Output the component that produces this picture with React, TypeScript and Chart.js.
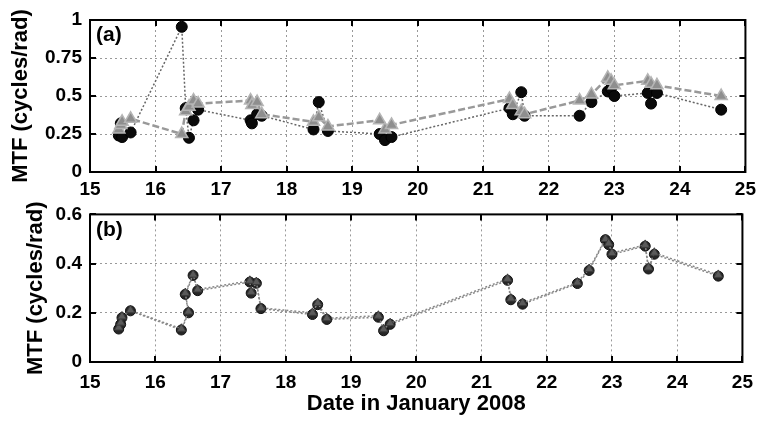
import React, { useEffect, useRef } from "react";
import { Chart, registerables } from "chart.js";

Chart.register(...registerables);

// ---------- data ----------
const timesA = [
  15.44, 15.47, 15.49, 15.62, 16.4, 16.46, 16.51, 16.58, 16.65, 17.45, 17.47, 17.55, 17.62,
  18.41, 18.49, 18.63, 19.42, 19.5, 19.6, 21.4, 21.45, 21.58, 21.63, 22.47, 22.65, 22.9,
  22.95, 23.0, 23.51, 23.56, 23.65, 24.63,
];
const circlesA = [
  0.24, 0.32, 0.23, 0.26, 0.955, 0.42, 0.225, 0.34, 0.41, 0.34, 0.32, 0.38, 0.37,
  0.28, 0.46, 0.27, 0.25, 0.21, 0.23, 0.42, 0.38, 0.525, 0.37, 0.37, 0.46, 0.53,
  0.55, 0.5, 0.52, 0.45, 0.52, 0.41,
];
const trianglesA = [
  0.28, 0.31, 0.33, 0.35, 0.25, 0.4, 0.43, 0.47, 0.45, 0.47, 0.44, 0.46, 0.38,
  0.33, 0.36, 0.3, 0.34, 0.28, 0.31, 0.48, 0.44, 0.4, 0.38, 0.47, 0.51, 0.62,
  0.6, 0.57, 0.6, 0.58, 0.57, 0.5,
];

const timesB = [
  15.44, 15.47, 15.49, 15.62, 16.4, 16.51, 16.46, 16.58, 16.65, 17.45, 17.47, 17.55, 17.62,
  18.41, 18.49, 18.63, 19.42, 19.5, 19.6, 21.4, 21.45, 21.63, 22.47, 22.65, 22.9, 22.95,
  23.0, 23.51, 23.56, 23.65, 24.63,
];
const circlesB = [
  0.134, 0.153, 0.18, 0.208, 0.13, 0.2, 0.275, 0.352, 0.29, 0.325, 0.28, 0.32, 0.217,
  0.193, 0.233, 0.173, 0.182, 0.127, 0.153, 0.332, 0.253, 0.235, 0.319, 0.372, 0.497, 0.477,
  0.438, 0.471, 0.378, 0.438, 0.349,
];
const trianglesB = [
  0.14, 0.16, 0.185, 0.21, 0.135, 0.205, 0.28, 0.355, 0.295, 0.33, 0.285, 0.325, 0.22,
  0.2, 0.24, 0.178, 0.188, 0.133, 0.158, 0.338, 0.258, 0.24, 0.323, 0.378, 0.5, 0.482,
  0.443, 0.476, 0.384, 0.444, 0.354,
];

const xTicks = [15, 16, 17, 18, 19, 20, 21, 22, 23, 24, 25];
const yTicksA = [0, 0.25, 0.5, 0.75, 1];
const yTicksB = [0, 0.2, 0.4, 0.6];

const FONT = "'Liberation Sans', Arial, Helvetica, sans-serif";

const pts = (xs: number[], ys: number[]) => xs.map((x, i) => ({ x, y: ys[i] }));

const boxPlugin = (label: string, labelDy: number) => ({
  id: "boxPlugin",
  afterDraw(chart: any) {
    const { ctx, chartArea, scales } = chart;
    const { left, right, top, bottom } = chartArea;
    ctx.save();
    ctx.strokeStyle = "#000";
    ctx.lineWidth = 2;
    ctx.setLineDash([]);
    ctx.strokeRect(left, top, right - left, bottom - top);
    const L = 6;
    ctx.beginPath();
    scales.x.ticks.forEach((t: any) => {
      const p = Math.round(scales.x.getPixelForValue(t.value));
      ctx.moveTo(p, bottom);
      ctx.lineTo(p, bottom - L);
      ctx.moveTo(p, top);
      ctx.lineTo(p, top + L);
    });
    scales.y.ticks.forEach((t: any) => {
      const p = Math.round(scales.y.getPixelForValue(t.value));
      ctx.moveTo(left, p);
      ctx.lineTo(left + L, p);
      ctx.moveTo(right, p);
      ctx.lineTo(right - L, p);
    });
    ctx.stroke();
    ctx.font = `bold 21px ${FONT}`;
    ctx.fillStyle = "#000";
    ctx.textBaseline = "middle";
    ctx.textAlign = "left";
    ctx.fillText(label, left + 6, top + labelDy);
    ctx.restore();
  },
});

function makeOptions(opts: {
  yTicks: number[];
  yMax: number;
  padTop: number;
  xHeight: number;
  xPad: number;
  yTitlePad: number;
  showXTitle: boolean;
}) {
  return {
    responsive: false,
    animation: false as const,
    layout: { padding: { top: opts.padTop, right: 15, left: 0, bottom: 0 } },
    plugins: { legend: { display: false }, tooltip: { enabled: false } },
    scales: {
      x: {
        type: "linear" as const,
        min: 15,
        max: 25,
        afterBuildTicks: (s: any) => {
          s.ticks = xTicks.map((v) => ({ value: v }));
        },
        afterFit: (s: any) => {
          s.height = opts.xHeight;
        },
        grid: { color: "rgba(0,0,0,0.4)", lineWidth: 1, drawTicks: false },
        border: { display: false, dash: [2, 3] },
        ticks: {
          padding: opts.xPad,
          color: "#000",
          font: { family: FONT, size: 19, weight: "bold" as const },
          callback: (v: any) => String(v),
          maxRotation: 0,
        },
        title: {
          display: opts.showXTitle,
          text: "Date in January 2008",
          color: "#000",
          font: { family: FONT, size: 22, weight: "bold" as const },
          padding: { top: 0, bottom: 4 },
        },
      },
      y: {
        type: "linear" as const,
        min: 0,
        max: opts.yMax,
        afterBuildTicks: (s: any) => {
          s.ticks = opts.yTicks.map((v) => ({ value: v }));
        },
        afterFit: (s: any) => {
          s.width = 90;
        },
        grid: { color: "rgba(0,0,0,0.4)", lineWidth: 1, drawTicks: false },
        border: { display: false, dash: [2, 3] },
        ticks: {
          padding: 8,
          color: "#000",
          font: { family: FONT, size: 19, weight: "bold" as const },
          callback: (v: any) => String(+v),
        },
        title: {
          display: true,
          text: "MTF (cycles/rad)",
          color: "#000",
          font: { family: FONT, size: 22, weight: "bold" as const },
          padding: { top: opts.yTitlePad, bottom: 0 },
        },
      },
    },
  };
}

export default function App() {
  const refA = useRef<HTMLCanvasElement>(null);
  const refB = useRef<HTMLCanvasElement>(null);

  useEffect(() => {
    const chartA = new Chart(refA.current!, {
      type: "scatter",
      data: {
        datasets: [
          {
            data: pts(timesA, trianglesA),
            showLine: true,
            borderColor: "#999",
            borderWidth: 2.5,
            borderDash: [7, 3],
            pointStyle: "triangle",
            pointRadius: 7,
            pointBackgroundColor: "#8e8e8e",
            pointBorderColor: "#b5b5b5",
            pointBorderWidth: 1.5,
          } as any,
          {
            data: pts(timesA, circlesA),
            showLine: true,
            borderColor: "#666",
            borderWidth: 1.5,
            borderDash: [2, 2],
            pointStyle: "circle",
            pointRadius: 5.5,
            pointBackgroundColor: "#0a0a0a",
            pointBorderColor: "#000",
            pointBorderWidth: 1,
          } as any,
        ],
      },
      options: makeOptions({
        yTicks: yTicksA,
        yMax: 1,
        padTop: 20,
        xHeight: 28,
        xPad: 6,
        yTitlePad: 8,
        showXTitle: false,
      }) as any,
      plugins: [boxPlugin("(a)", 15)],
    });

    const chartB = new Chart(refB.current!, {
      type: "scatter",
      data: {
        datasets: [
          {
            data: pts(timesB, trianglesB),
            showLine: true,
            borderColor: "#888",
            borderWidth: 1.5,
            borderDash: [2, 2],
            pointStyle: "triangle",
            pointRadius: 5,
            pointBackgroundColor: "#5a5a5a",
            pointBorderColor: "#3a3a3a",
            pointBorderWidth: 1,
          } as any,
          {
            data: pts(timesB, circlesB),
            showLine: true,
            borderColor: "#888",
            borderWidth: 1.5,
            borderDash: [2, 2],
            pointStyle: "circle",
            pointRadius: 5,
            pointBackgroundColor: "#262626",
            pointBorderColor: "#111",
            pointBorderWidth: 1,
          } as any,
        ],
      },
      options: makeOptions({
        yTicks: yTicksB,
        yMax: 0.6,
        padTop: 15,
        xHeight: 59,
        xPad: 9,
        yTitlePad: 23,
        showXTitle: true,
      }) as any,
      plugins: [boxPlugin("(b)", 16)],
    });

    return () => {
      chartA.destroy();
      chartB.destroy();
    };
  }, []);

  return (
    <div style={{ position: "absolute", left: 0, top: 0, width: 762, height: 421, background: "#fff" }}>
      <canvas
        ref={refA}
        width={762}
        height={200}
        style={{ position: "absolute", left: 0, top: 0, width: 762, height: 200 }}
      />
      <canvas
        ref={refB}
        width={762}
        height={226}
        style={{ position: "absolute", left: 0, top: 195, width: 762, height: 226 }}
      />
    </div>
  );
}
